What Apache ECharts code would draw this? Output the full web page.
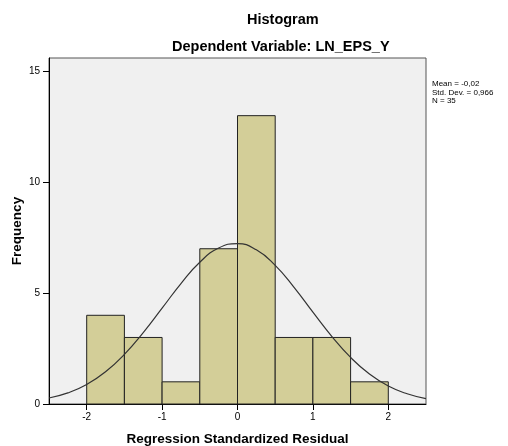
<!DOCTYPE html>
<html>
<head>
<meta charset="utf-8">
<script src="https://cdn.jsdelivr.net/npm/echarts@6/dist/echarts.min.js"></script>
<style>
html,body{margin:0;padding:0;background:#fff;}
#main{width:508px;height:446px;}
</style>
</head>
<body>
<div id="main"></div>
<script>
// Histogram bins (Regression Standardized Residual)
var binStart = [-2.0, -1.5, -1.0, -0.5, 0.0, 0.5, 1.0, 1.5];
var binEnd   = [-1.5, -1.0, -0.5, 0.0, 0.5, 1.0, 1.5, 2.0];
var counts   = [4, 3, 1, 7, 13, 3, 3, 1];

// Normal curve
var curveX = [-2.5, -2.25, -2.0, -1.75, -1.5, -1.25, -1.0, -0.75, -0.5, -0.25, 0.0, 0.25, 0.5, 0.75, 1.0, 1.25, 1.5, 1.75, 2.0, 2.25, 2.5];
var curveY = [0.27, 0.50, 0.88, 1.45, 2.24, 3.22, 4.32, 5.43, 6.39, 7.03, 7.23, 6.95, 6.25, 5.26, 4.14, 3.05, 2.10, 1.35, 0.81, 0.46, 0.24];

var xTicks = [-2, -1, 0, 1, 2];
var yTicks = [0, 5, 10, 15];

var titleText = 'Histogram';
var subtitleText = 'Dependent Variable: LN_EPS_Y';
var xName = 'Regression Standardized Residual';
var yName = 'Frequency';
var statsLines = ['Mean = -0,02', 'Std. Dev. = 0,966', 'N = 35'];

var chart = echarts.init(document.getElementById('main'));
var font = 'Liberation Sans, Arial, sans-serif';

var barData = binStart.map(function (s, i) { return [s, binEnd[i], counts[i]]; });
var lineData = curveX.map(function (x, i) { return [x, curveY[i]]; });

chart.setOption({
  animation: false,
  backgroundColor: '#ffffff',
  grid: {
    left: 49, top: 58, width: 377, height: 346,
    containLabel: false, outerBoundsMode: 'none',
    show: true, backgroundColor: '#F0F0F0', borderColor: '#555', borderWidth: 1
  },
  xAxis: {
    type: 'value', min: -2.5, max: 2.5,
    splitLine: { show: false },
    axisLine: { show: true, onZero: false, lineStyle: { color: '#000', width: 1 } },
    axisTick: { show: true, length: 6, customValues: xTicks, lineStyle: { color: '#000' } },
    axisLabel: { customValues: xTicks, color: '#000', fontSize: 10, fontFamily: font, margin: 8 },
    name: xName, nameLocation: 'middle', nameGap: 28, nameMoveOverlap: false,
    nameTextStyle: { color: '#000', fontSize: 13.5, fontWeight: 'bold', fontFamily: font }
  },
  yAxis: {
    type: 'value', min: 0, max: 15.6,
    splitLine: { show: false },
    axisLine: { show: true, onZero: false, lineStyle: { color: '#000', width: 1 } },
    axisTick: { show: true, length: 6, customValues: yTicks, lineStyle: { color: '#000' } },
    axisLabel: { customValues: yTicks, color: '#000', fontSize: 10, fontFamily: font, margin: 9 },
    name: yName, nameLocation: 'middle', nameGap: 25, nameRotate: 90, nameMoveOverlap: false,
    nameTextStyle: { color: '#000', fontSize: 13.5, fontWeight: 'bold', fontFamily: font }
  },
  graphic: [
    { type: 'text', left: 247, top: 12, style: { text: titleText, fill: '#000', font: 'bold 14.5px ' + font } },
    { type: 'text', left: 172, top: 39, style: { text: subtitleText, fill: '#000', font: 'bold 14.5px ' + font } },
    { type: 'text', left: 432, top: 80, style: { text: statsLines.join('\n'), fill: '#000', font: '8px ' + font, lineHeight: 8.5 } }
  ],
  series: [
    {
      type: 'custom',
      data: barData,
      encode: { x: [0, 1], y: 2 },
      renderItem: function (params, api) {
        var p0 = api.coord([api.value(0), 0]);
        var p1 = api.coord([api.value(1), api.value(2)]);
        return {
          type: 'rect',
          shape: { x: p0[0], y: p1[1], width: p1[0] - p0[0], height: p0[1] - p1[1] },
          style: { fill: '#D3CE98', stroke: '#222', lineWidth: 1 }
        };
      },
      z: 2
    },
    {
      type: 'line',
      data: lineData,
      smooth: true,
      symbol: 'none',
      lineStyle: { color: '#333', width: 1.2 },
      z: 3
    }
  ]
});
</script>
</body>
</html>
